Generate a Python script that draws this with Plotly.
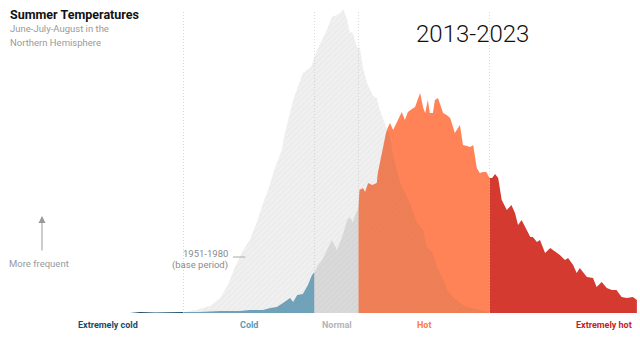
import plotly.graph_objects as go

# x: summer temperature anomaly in standard deviations; y: relative frequency index
base_x = [-4.05, -3.75, -3.46, -3.17, -2.97, -2.75, -2.48, -2.28, -2.13, -1.99, -1.85, -1.70,
          -1.56, -1.44, -1.34, -1.21, -1.07, -1.03, -0.85, -0.66, -0.50, -0.38, -0.26, -0.19,
          -0.09, 0.01, 0.09, 0.13, 0.17, 0.21, 0.26, 0.32, 0.40, 0.46, 0.52, 0.60, 0.72, 0.79,
          0.85, 0.97, 1.05, 1.11, 1.25, 1.44, 1.58, 1.70, 1.77, 1.89, 1.97, 2.09, 2.17, 2.28,
          2.42, 2.56, 2.81, 3.01, 3.21]
base_y = [0, 1, 0, 1, 1, 3, 7, 15, 28, 46, 61, 73,
          91, 110, 123, 145, 163, 176, 213, 240, 246, 263, 275, 283,
          296, 298, 301, 304, 299, 293, 281, 280, 266, 265, 245, 230, 217, 215,
          203, 186, 176, 158, 130, 110, 90, 83, 66, 60, 46, 34, 23, 16,
          10, 6, 3, 1, 0]

recent_x = [-4.05, -3.85, -3.56, -3.26, -3.00,
            -2.68, -2.28, -1.89, -1.70, -1.44, -1.30, -1.17, -1.05, -0.97, -0.91, -0.85,
            -0.77, -0.66, -0.56, -0.48, -0.43,
            -0.36, -0.28, -0.19, -0.09, 0.01, 0.11, 0.21, 0.26, 0.32, 0.38, 0.43,
            0.45, 0.52, 0.56, 0.62, 0.70, 0.79, 0.81, 0.87, 0.91, 0.97, 1.01, 1.05, 1.11,
            1.18, 1.28, 1.34, 1.40, 1.48, 1.54, 1.64, 1.70, 1.74, 1.79, 1.83, 1.89, 1.93,
            1.99, 2.09, 2.16, 2.23, 2.32, 2.42, 2.48, 2.56, 2.62, 2.68, 2.75, 2.81, 2.87,
            2.94, 3.00,
            3.05, 3.11, 3.17, 3.24, 3.34, 3.43, 3.50, 3.56, 3.63, 3.73, 3.80, 3.85, 3.93,
            3.99, 4.09, 4.19, 4.29, 4.38, 4.48, 4.54, 4.64, 4.71, 4.77, 4.91, 5.03, 5.10,
            5.20, 5.30, 5.40, 5.49, 5.59, 5.69, 5.81, 5.89]
recent_y = [0, 1, 0.5, 1, 1,
            1, 2, 2, 3, 3, 5, 6, 10, 13, 15, 11,
            18, 19, 28, 38, 41,
            48, 53, 63, 73, 63, 76, 93, 96, 91, 100, 104,
            123, 125, 121, 130, 128, 130, 140, 155, 165, 180, 186, 190, 183,
            190, 201, 193, 201, 204, 206, 220, 205, 200, 213, 200, 200, 213,
            215, 200, 198, 195, 180, 188, 168, 167, 166, 168, 145, 140, 141,
            141, 135,
            135, 139, 135, 113, 103, 108, 100, 88, 93, 83, 76, 76, 71,
            73, 60, 65, 61, 58, 53, 55, 48, 40, 45, 36, 35, 26,
            31, 25, 23, 23, 16, 15, 16, 13]

thresholds = [-3.0, -0.43, 0.43, 3.0]
categories = ["Extremely cold", "Cold", "Normal", "Hot", "Extremely hot"]
cat_colors = ["#1f4d6c", "#72aac4", "#e6e6e6", "#ff8356", "#d53a31"]
label_colors = ["#1d4a6b", "#5b9ab8", "#b5b5b5", "#ff7a45", "#c8211e"]
label_x = [-4.49, -1.72, 0.01, 1.72, 5.25]

fig = go.Figure()

edges = [-99] + thresholds + [99]
for i, cat in enumerate(categories):
    lo, hi = edges[i], edges[i + 1]
    xs = [x for x in recent_x if lo <= x <= hi]
    ys = [y for x, y in zip(recent_x, recent_y) if lo <= x <= hi]
    fig.add_trace(go.Scatter(x=xs, y=ys, mode="lines", fill="tozeroy",
                             fillcolor=cat_colors[i], line=dict(width=0, color=cat_colors[i]),
                             name=cat, hoverinfo="skip"))

fig.add_trace(go.Scatter(x=base_x, y=base_y, mode="lines", fill="tozeroy",
                         line=dict(width=0, color="rgba(0,0,0,0)"),
                         fillpattern=dict(shape="/", bgcolor="rgba(90,90,90,0.09)",
                                          fgcolor="rgba(90,90,90,0.10)", size=4, solidity=0.3),
                         name="1951-1980", hoverinfo="skip"))

for t in thresholds:
    fig.add_shape(type="line", x0=t, x1=t, y0=0, y1=303, xref="x", yref="y",
                  line=dict(color="rgba(200,200,200,0.7)", width=1, dash="1px,2px"), layer="above")

# leader line for base period label
fig.add_shape(type="line", x0=-2.03, x1=-1.79, y0=56, y1=56, xref="x", yref="y",
              line=dict(color="#aaaaaa", width=1))

font = "Roboto"
ann = []
ann.append(dict(x=8/640, y=1-14.5/337, xref="paper", yref="paper", text="<b>Summer Temperatures</b>",
                showarrow=False, xanchor="left", yanchor="middle",
                font=dict(family=font, size=12.5, color="#121212")))
ann.append(dict(x=8/640, y=1-28.5/337, xref="paper", yref="paper", text="June-July-August in the",
                showarrow=False, xanchor="left", yanchor="middle",
                font=dict(family=font, size=9.5, color="#9a9a9a")))
ann.append(dict(x=8/640, y=1-42.5/337, xref="paper", yref="paper", text="Northern Hemisphere",
                showarrow=False, xanchor="left", yanchor="middle",
                font=dict(family=font, size=9.5, color="#9a9a9a")))
ann.append(dict(x=472/640, y=1-34/337, xref="paper", yref="paper", text="2013-2023",
                showarrow=False, xanchor="center", yanchor="middle",
                font=dict(family=font, size=24, color="#111111", weight=300)))
ann.append(dict(x=38.5/640, y=1-263.5/337, xref="paper", yref="paper", text="More frequent",
                showarrow=False, xanchor="center", yanchor="middle",
                font=dict(family=font, size=9.5, color="#999999")))
ann.append(dict(x=42/640, y=1-216/337, xref="paper", yref="paper", text="",
                showarrow=True, ax=0, ay=36, arrowhead=2, arrowsize=1.4, arrowwidth=1,
                arrowcolor="#999999"))
ann.append(dict(x=-2.08, y=60, xref="x", yref="y", text="1951-1980",
                showarrow=False, xanchor="right", yanchor="middle",
                font=dict(family=font, size=9.5, color="#8a8a8a")))
ann.append(dict(x=-2.08, y=48.5, xref="x", yref="y", text="(base period)",
                showarrow=False, xanchor="right", yanchor="middle",
                font=dict(family=font, size=9.5, color="#8a8a8a")))
for i, cat in enumerate(categories):
    ann.append(dict(x=label_x[i], y=-12, xref="x", yref="y", text="<b>" + cat + "</b>",
                    showarrow=False, xanchor="center", yanchor="middle",
                    font=dict(family=font, size=9, color=label_colors[i])))

fig.update_layout(width=640, height=337, margin=dict(l=0, r=0, t=0, b=0),
                  paper_bgcolor="white", plot_bgcolor="white", showlegend=False,
                  annotations=ann)
fig.update_xaxes(range=[-6.598, 5.951], visible=False, fixedrange=True)
fig.update_yaxes(range=[-24, 313], visible=False, fixedrange=True)

fig.write_html("out.html", config={"displayModeBar": False})
